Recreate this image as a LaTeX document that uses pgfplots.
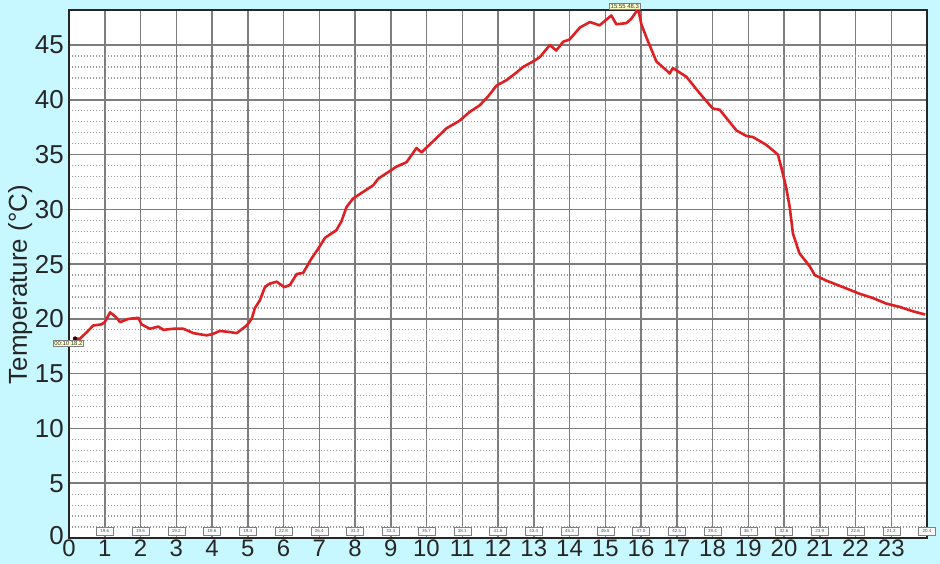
\documentclass[border=0pt]{standalone}
\usepackage{pgfplots}
\usepackage{pgfplotstable}
\pgfplotsset{compat=1.18}
\usepackage{fontspec}
\setmainfont{Liberation Sans}
\definecolor{bgcyan}{RGB}{200,248,255}
\definecolor{curve}{RGB}{222,32,36}
\definecolor{gridg}{RGB}{125,125,125}
\definecolor{annot}{RGB}{255,255,200}

\pgfplotstableread{
h T
0.17 18.2
0.31 18.2
0.50 18.8
0.68 19.4
0.91 19.5
1.00 19.7
1.15 20.6
1.30 20.2
1.43 19.7
1.66 20.0
1.94 20.1
2.03 19.5
2.26 19.1
2.50 19.3
2.64 19.0
2.92 19.1
3.20 19.1
3.48 18.7
3.85 18.5
4.00 18.6
4.22 18.9
4.50 18.8
4.69 18.7
4.97 19.4
5.11 20.0
5.20 21.0
5.34 21.7
5.48 22.9
5.60 23.2
5.81 23.4
6.02 22.9
6.18 23.1
6.37 24.1
6.55 24.2
6.78 25.5
6.97 26.4
7.16 27.4
7.48 28.1
7.62 28.9
7.76 30.2
7.95 31.0
8.23 31.6
8.51 32.2
8.65 32.8
8.88 33.3
9.16 33.9
9.44 34.3
9.72 35.6
9.86 35.2
10.18 36.2
10.56 37.4
10.93 38.1
11.21 38.9
11.49 39.5
11.72 40.3
11.96 41.3
12.24 41.8
12.52 42.5
12.70 43.0
12.98 43.5
13.17 43.9
13.45 45.0
13.63 44.5
13.82 45.3
14.00 45.5
14.29 46.6
14.57 47.1
14.84 46.8
15.17 47.7
15.31 46.9
15.59 47.0
15.73 47.4
15.92 48.3
16.01 46.9
16.15 45.7
16.43 43.5
16.71 42.7
16.80 42.4
16.89 42.9
17.27 42.1
17.64 40.6
18.01 39.2
18.20 39.1
18.67 37.2
18.95 36.7
19.13 36.6
19.50 35.9
19.83 35.0
19.95 33.5
20.06 32.0
20.16 30.2
20.25 27.8
20.43 26.0
20.72 24.8
20.86 24.0
21.18 23.5
21.65 22.9
22.11 22.3
22.49 21.9
22.86 21.4
23.23 21.1
23.60 20.7
23.95 20.4
}\temps

\pgfplotstableread{
h y lab
1 0.65 19.6
2 0.65 19.6
3 0.65 19.2
4 0.65 18.6
5 0.65 19.4
6 0.65 22.8
7 0.65 26.4
8 0.65 31.3
9 0.65 33.4
10 0.65 35.7
11 0.65 38.1
12 0.65 41.6
13 0.65 43.4
14 0.65 45.3
15 0.65 46.5
16 0.65 47.0
17 0.65 42.5
18 0.65 39.4
19 0.65 36.7
20 0.65 32.6
21 0.65 23.9
22 0.65 22.6
23 0.65 21.3
24 0.65 20.4
}\hourly

\begin{document}
\begin{tikzpicture}
\fill[bgcyan] (0,0) rectangle (940bp,564bp);
\useasboundingbox (0,0) rectangle (940bp,564bp);
\begin{axis}[
  scale only axis,
  width=858bp, height=528bp,
  at={(69bp,26bp)}, anchor=south west,
  xmin=0, xmax=24, ymin=0, ymax=48.2,
  xtick={0,...,23},
  ytick={0,5,...,45},
  minor y tick num=4,
  grid=both,
  major grid style={gridg, line width=1.5bp},
  minor grid style={gray!80, line width=1.2bp, dash pattern=on 1.2bp off 1.8bp},
  axis line style={black!85, line width=2bp},
  axis background/.style={fill=white},
  tick style={draw=none},
  major tick length=0pt, minor tick length=0pt,
  clip=false,
  /pgf/number format/assume math mode=true,
  ticklabel style={font=\fontsize{26}{28}\selectfont, text=black!85, inner sep=0pt},
  xticklabel style={anchor=north, yshift=-2bp, font=\fontsize{24}{26}\selectfont},
  yticklabel style={anchor=east, xshift=-5bp},
  yticklabel={\ifdim\tick pt<1pt\raisebox{5bp}{0}\else\pgfmathprintnumber{\tick}\fi},
  ylabel={Temperature (°C)},
  ylabel style={font=\fontsize{26}{30}\selectfont, text=black!85, at={(axis description cs:-0.057,0.48)}, anchor=center, rotate=0},
]
\addplot[draw=curve, line width=2.6bp, line join=round] table[x=h, y=T] {\temps};
\addplot[only marks, mark=none, nodes near coords, point meta=explicit symbolic,
  nodes near coords style={anchor=center, draw=gray, fill=white, font=\fontsize{4.5}{5}\selectfont, text=black!70, inner sep=0.6bp, minimum width=17bp, minimum height=8bp}]
  table[x=h, y=y, meta=lab] {\hourly};
\addplot[only marks, mark=*, mark size=2bp, color=black!80!red, nodes near coords={00:10 18.2}, point meta=explicit symbolic,
  nodes near coords style={anchor=north west, xshift=-22bp, yshift=-1bp, draw=gray, fill=annot, font=\fontsize{6}{7}\selectfont, text=black!80, inner sep=1bp}]
  coordinates {(0.17,18.2)};
\addplot[only marks, mark=*, mark size=1.8bp, color=red!60!black, nodes near coords={15:55 48.3}, point meta=explicit symbolic,
  nodes near coords style={anchor=south east, xshift=2bp, yshift=-1bp, draw=gray, fill=annot, font=\fontsize{6}{7}\selectfont, text=black!80, inner sep=1bp}]
  coordinates {(15.92,48.3)};
\end{axis}
\end{tikzpicture}
\end{document}
